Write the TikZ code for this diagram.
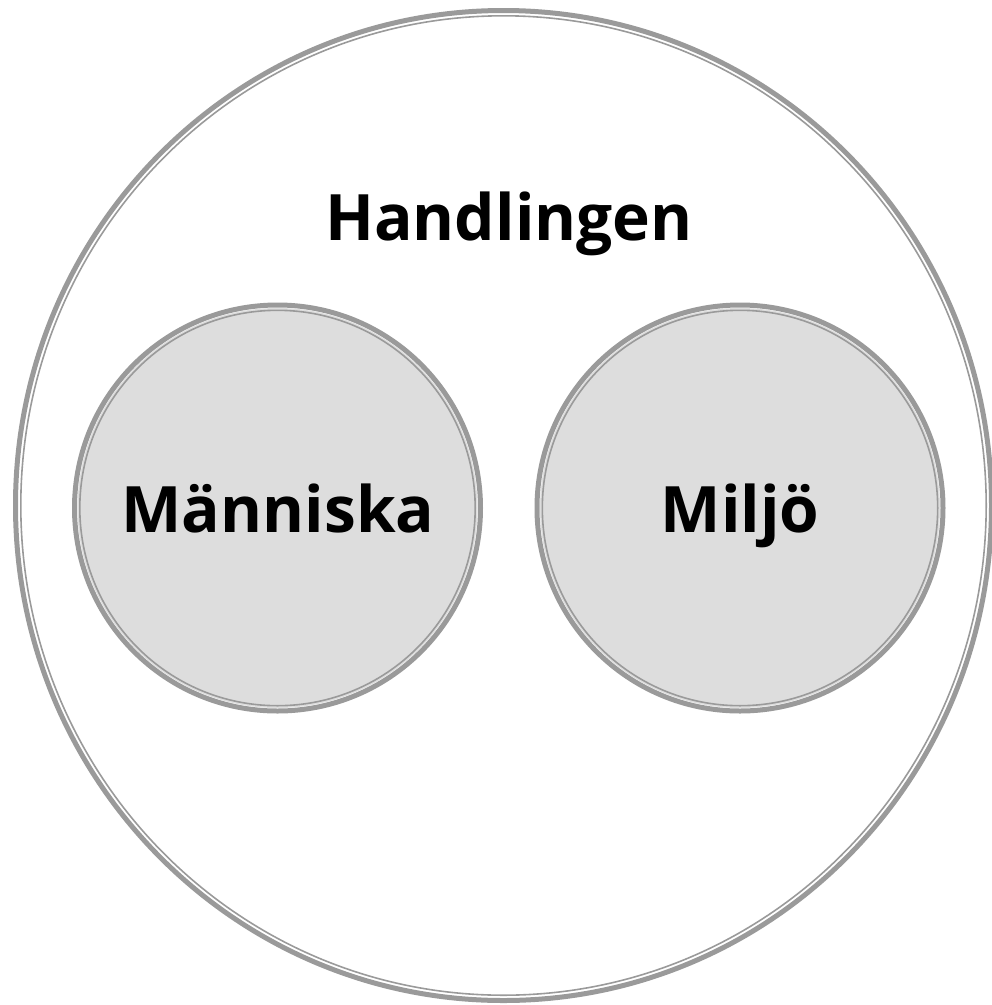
\documentclass[tikz,border=0pt]{standalone}
\usepackage{fontspec}
\setmainfont{Open Sans}
\definecolor{rim}{HTML}{9A9A9A}
\definecolor{disk}{HTML}{DDDDDD}
\tikzset{
  lbl/.style={font=\fontsize{64}{74}\selectfont\bfseries, inner sep=0pt, anchor=base},
}
\begin{document}
\begin{tikzpicture}[x=1pt,y=-1pt]
\useasboundingbox (0,0) rectangle (992,1005);
% outer circle
\draw[rim, line width=5] (503.5,505.5) ellipse [x radius=488, y radius=495];
\draw[rim, line width=1.6] (503.5,505.5) ellipse [x radius=482.7, y radius=489.7];
% inner circles
\foreach \cx/\nm in {277.5/L, 740/R}{
  \fill[disk] (\cx,508) circle (200);
  \draw[rim, line width=5] (\cx,508) circle (203);
  \draw[rim, line width=1.6] (\cx,508) circle (197.7);
}
\node[lbl] (hand) at (509,240) {Handlingen};
\node[lbl] (man) at (278,532) {Människa};
\node[lbl] (mil) at (740,532) {Miljö};
\end{tikzpicture}
\end{document}
